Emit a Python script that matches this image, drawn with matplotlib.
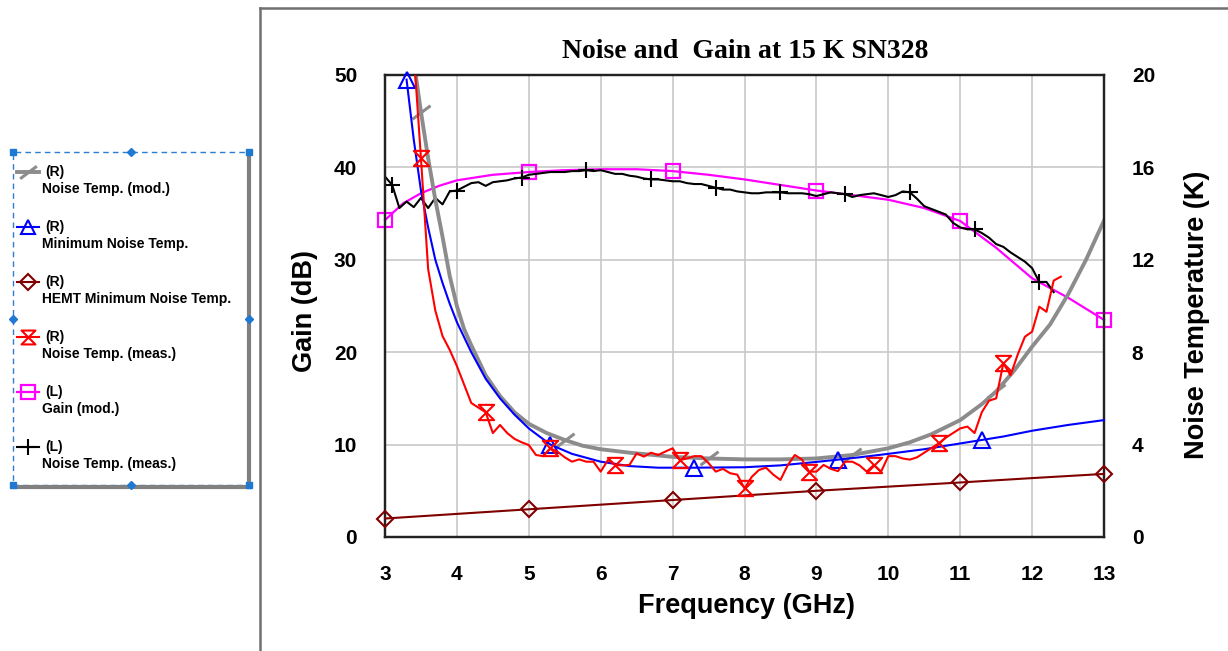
import numpy as np
import matplotlib
matplotlib.use("Agg")
import matplotlib.pyplot as plt
from matplotlib.lines import Line2D
from matplotlib.path import Path
from matplotlib.patches import Rectangle

plt.rcParams['font.family'] = ['Liberation Sans', 'DejaVu Sans']

# ---------------- data ----------------
# measured gain (L), 0.1 GHz steps from 3.0 GHz
gain_meas = [39.0, 38.1, 35.6, 36.3, 35.7, 36.7, 35.6, 36.7, 36.0, 37.4,
             37.5, 37.9, 38.3, 38.4, 38.0, 38.4, 38.5, 38.6, 38.8, 38.9,
             39.2, 39.3, 39.4, 39.5, 39.5, 39.5, 39.6, 39.6, 39.7, 39.6,
             39.7, 39.5, 39.3, 39.3, 39.1, 39.0, 38.8, 38.7, 38.7, 38.6,
             38.5, 38.5, 38.3, 38.2, 38.2, 38.0, 37.8, 37.6, 37.6, 37.4,
             37.3, 37.2, 37.2, 37.3, 37.3, 37.3, 37.2, 37.2, 37.2, 37.1,
             36.9, 37.1, 37.3, 37.2, 37.1, 36.8, 37.0, 37.1, 37.2, 37.0,
             36.8, 37.0, 37.4, 37.3, 36.6, 35.8, 35.5, 35.2, 34.9, 34.0,
             33.5, 33.3, 33.3, 32.9, 32.4, 31.7, 31.4, 30.8, 30.3, 29.8,
             29.1, 27.6, 27.6, 26.5]
freq_gain_meas = np.round(3.0 + 0.1 * np.arange(len(gain_meas)), 1)

# modelled gain (L)
freq_gain_mod = [3.0, 3.25, 3.5, 3.75, 4.0, 4.5, 5.0, 5.5, 6.0, 6.5, 7.0, 7.5,
                 8.0, 8.5, 9.0, 9.5, 10.0, 10.5, 11.0, 11.5, 12.0, 12.5, 13.0]
gain_mod = [34.3, 36.1, 37.2, 38.0, 38.6, 39.2, 39.5, 39.7, 39.8, 39.8, 39.6, 39.2,
            38.7, 38.1, 37.5, 37.0, 36.5, 35.6, 34.2, 31.3, 28.0, 25.9, 23.5]

# measured noise temperature (R), 0.1 GHz steps from 3.0 GHz
tn_meas = [40.0, 34.0, 29.0, 25.0, 21.0, 16.4, 11.6, 9.8, 8.7, 8.1,
           7.4, 6.6, 5.8, 5.6, 5.4, 4.5, 4.85, 4.5, 4.25, 4.1,
           3.98, 3.55, 3.5, 3.84, 3.69, 3.45, 3.26, 3.36, 3.26, 3.26,
           2.83, 3.33, 3.12, 3.1, 3.12, 3.62, 3.48, 3.65, 3.55, 3.7,
           3.84, 3.33, 3.4, 3.5, 3.5, 3.2, 2.83, 2.95, 2.76, 2.7,
           2.1, 2.6, 2.9, 3.0, 2.7, 2.47, 3.1, 3.55, 3.35, 2.83,
           2.83, 3.12, 2.95, 2.85, 3.26, 3.26, 3.1, 2.83, 3.12, 2.83,
           3.5, 3.5, 3.4, 3.35, 3.45, 3.65, 3.85, 4.05, 4.3, 4.5,
           4.7, 4.78, 4.5, 5.4, 5.9, 6.0, 7.52, 7.0, 7.9, 8.67,
           8.89, 9.97, 9.75, 11.1, 11.27]
freq_tn_meas = np.round(3.0 + 0.1 * np.arange(len(tn_meas)), 1)

# minimum noise temperature (R)
freq_tmin = [3.3, 3.4, 3.5, 3.6, 3.7, 3.8, 3.9, 4.0, 4.2, 4.4, 4.6, 4.8, 5.0, 5.3,
             5.6, 6.0, 6.4, 6.8, 7.3, 8.0, 8.5, 9.0, 9.3, 9.6, 10.0, 10.5, 11.0,
             11.3, 11.6, 12.0, 12.5, 13.0]
tmin = [19.8, 17.2, 15.0, 13.4, 12.0, 11.0, 10.1, 9.3, 8.0, 6.85, 6.0, 5.3, 4.7, 4.0,
        3.6, 3.26, 3.07, 3.0, 3.0, 3.02, 3.1, 3.25, 3.35, 3.45, 3.6, 3.8, 4.05,
        4.2, 4.35, 4.6, 4.85, 5.06]

# HEMT minimum noise temperature (R)
freq_hemt = [3, 4, 5, 6, 7, 8, 9, 10, 11, 12, 13]
t_hemt = [0.8, 1.0, 1.2, 1.4, 1.6, 1.8, 2.0, 2.18, 2.36, 2.55, 2.73]

# modelled noise temperature (R)
freq_tn_mod = [3.4, 3.5, 3.6, 3.7, 3.8, 3.9, 4.0, 4.1, 4.2, 4.4, 4.6, 4.8, 5.0,
               5.25, 5.5, 5.75, 6.0, 6.4, 7.0, 7.5, 8.0, 8.5, 9.0, 9.5, 10.0,
               10.3, 10.6, 11.0, 11.3, 11.5, 11.75, 12.0, 12.25, 12.5, 12.75, 13.0]
tn_mod = [20.6, 18.4, 16.4, 14.6, 13.0, 11.3, 10.0, 9.0, 8.3, 7.0, 6.1, 5.4, 4.9,
          4.5, 4.2, 3.95, 3.8, 3.65, 3.47, 3.4, 3.36, 3.36, 3.4, 3.55, 3.84,
          4.1, 4.45, 5.06, 5.75, 6.3, 7.2, 8.24, 9.2, 10.5, 12.0, 13.7]

freq_ticks = [3, 4, 5, 6, 7, 8, 9, 10, 11, 12, 13]
gain_ticks = [0, 10, 20, 30, 40, 50]
temp_ticks = [0, 4, 8, 12, 16, 20]

title = "Noise and  Gain at 15 K SN328"
legend_entries = [
    ("(R)", "Noise Temp. (mod.)"),
    ("(R)", "Minimum Noise Temp."),
    ("(R)", "HEMT Minimum Noise Temp."),
    ("(R)", "Noise Temp. (meas.)"),
    ("(L)", "Gain (mod.)"),
    ("(L)", "Noise Temp. (meas.)"),
]

# ---------------- styles ----------------
C_GRAY = "#8c8c8c"
C_BLUE = "#0000ff"
C_DRED = "#800000"
C_RED = "#ff0000"
C_MAG = "#ff00ff"
C_BLK = "#000000"

slash = Path([(-1.0, -0.75), (1.0, 0.75)], [Path.MOVETO, Path.LINETO])
hourglass = Path([(-1, 1), (1, 1), (-1, -1), (1, -1), (-1, 1)],
                 [Path.MOVETO, Path.LINETO, Path.LINETO, Path.LINETO, Path.CLOSEPOLY])


def idx_of(freqs, wanted):
    out = []
    for w in wanted:
        for i, f in enumerate(freqs):
            if abs(f - w) < 1e-6:
                out.append(i)
    return out


W, H = 1228, 651
fig = plt.figure(figsize=(W / 100, H / 100), dpi=100)
fig.patch.set_facecolor("white")

ax = fig.add_axes([385 / W, 114 / H, 719 / W, 462 / H])
ax2 = ax.twinx()

# left axis: gain
ax.plot(freq_gain_mod, gain_mod, color=C_MAG, lw=1.6, marker="s", ms=10,
        mfc="none", mec=C_MAG, mew=1.6,
        markevery=idx_of(freq_gain_mod, [3, 5, 7, 9, 11, 13]), clip_on=False, zorder=3)
ax.plot(freq_gain_meas, gain_meas, color=C_BLK, lw=1.5, marker="+", ms=12,
        mew=1.5, markevery=slice(1, None, 9), zorder=4)

# right axis: noise temperatures
ax2.plot(freq_tn_mod, tn_mod, color=C_GRAY, lw=2.8, marker=slash, ms=13, mew=2.2,
         mec=C_GRAY, markevery=idx_of(freq_tn_mod, [3.5, 5.5, 7.5, 9.5, 11.5]), zorder=2)
ax2.plot(freq_tmin, tmin, color=C_BLUE, lw=1.5, marker="^", ms=12, mfc="none",
         mec=C_BLUE, mew=1.5, markevery=idx_of(freq_tmin, [3.3, 5.3, 7.3, 9.3, 11.3]),
         clip_on=False, zorder=3)
ax2.plot(freq_hemt, t_hemt, color=C_DRED, lw=1.5, marker="D", ms=8, mfc="none",
         mec=C_DRED, mew=1.5, markevery=idx_of(freq_hemt, [3, 5, 7, 9, 11, 13]),
         clip_on=False, zorder=3)
ax2.plot(freq_tn_meas, tn_meas, color=C_RED, lw=1.5, marker=hourglass, ms=11,
         mfc="none", mec=C_RED, mew=1.5, markevery=slice(5, None, 9), zorder=4)

ax.set_xlim(3, 13)
ax.set_ylim(0, 50)
ax2.set_ylim(0, 20)
ax.set_xticks(freq_ticks)
ax.set_yticks(gain_ticks)
ax2.set_yticks(temp_ticks)
ax.grid(True, color="#c8c8c8", lw=1.2)
ax.set_axisbelow(True)

tick_font = dict(fontsize=15, fontweight="bold")
ax.set_xticklabels([str(t) for t in freq_ticks], **tick_font)
ax.set_yticklabels([str(t) for t in gain_ticks], **tick_font)
ax2.set_yticklabels([str(t) for t in temp_ticks], **tick_font)
ax.tick_params(axis="x", length=0, pad=20)
ax.tick_params(axis="y", length=0, pad=20)
ax2.tick_params(axis="y", length=0, pad=20)

for a in (ax, ax2):
    for s in a.spines.values():
        s.set_color("#222222")
        s.set_linewidth(1.6)

lab_font = dict(fontsize=19.5, fontweight="bold")
fig.text(746 / W, 1 - 606 / H, "Frequency (GHz)", ha="center", va="center", **lab_font)
fig.text(305 / W, 1 - 311 / H, "Gain (dB)", ha="center", va="center", rotation=90, **lab_font)
fig.text(1197 / W, 1 - 315 / H, "Noise Temperature (K)", ha="center", va="center",
         rotation=90, **lab_font)
fig.text(745 / W, 1 - 52 / H, title, ha="center", va="center", fontsize=20,
         fontweight="bold", family=["Liberation Serif", "DejaVu Serif"])

# outer chart-area frame (partially visible)
fig.add_artist(Line2D([260 / W, 260 / W], [0, 1 - 8 / H], transform=fig.transFigure,
                      color="#707070", lw=1.8))
fig.add_artist(Line2D([260 / W, 1.0], [1 - 8 / H, 1 - 8 / H], transform=fig.transFigure,
                      color="#707070", lw=1.8))

# ---------------- legend (drawn at its place outside the plot) ----------------
def fx(x):
    return x / W


def fy(y):
    return 1 - y / H


# shadow
fig.add_artist(Line2D([fx(249), fx(249)], [fy(156), fy(487)], transform=fig.transFigure,
                      color="#808080", lw=3.0))
fig.add_artist(Line2D([fx(15), fx(249)], [fy(487), fy(487)], transform=fig.transFigure,
                      color="#808080", lw=3.0))
fig.add_artist(Rectangle((fx(13), fy(485)), fx(236), 333 / H, transform=fig.transFigure,
                         fill=True, facecolor="white", edgecolor="#2a7fd4", lw=1.0,
                         ls=(0, (4, 3))))
hc = "#1f78d1"
for (hx, hy) in [(13, 152), (249, 152), (13, 485), (249, 485)]:
    fig.add_artist(Line2D([fx(hx)], [fy(hy)], transform=fig.transFigure, marker="s",
                          ms=5, color=hc, mec=hc))
for (hx, hy) in [(131, 152), (13, 319), (249, 319), (131, 485)]:
    fig.add_artist(Line2D([fx(hx)], [fy(hy)], transform=fig.transFigure, marker="D",
                          ms=4.5, color=hc, mec=hc))

leg_styles = [
    dict(color=C_GRAY, lw=2.8, marker=slash, ms=12, mew=2.2, mec=C_GRAY),
    dict(color=C_BLUE, lw=1.5, marker="^", ms=10, mfc="none", mec=C_BLUE, mew=1.5),
    dict(color=C_DRED, lw=1.5, marker="D", ms=8, mfc="none", mec=C_DRED, mew=1.5),
    dict(color=C_RED, lw=1.5, marker=hourglass, ms=10, mfc="none", mec=C_RED, mew=1.5),
    dict(color=C_MAG, lw=1.6, marker="s", ms=10, mfc="none", mec=C_MAG, mew=1.6),
    dict(color=C_BLK, lw=1.5, marker="+", ms=12, mew=1.5),
]
y0 = 172
dy = 55
for i, ((tag, name), st) in enumerate(zip(legend_entries, leg_styles)):
    yy = y0 + i * dy
    fig.add_artist(Line2D([fx(17), fx(39)], [fy(yy), fy(yy)], transform=fig.transFigure,
                          markevery=[], **{k: v for k, v in st.items()}))
    fig.add_artist(Line2D([fx(28)], [fy(yy)], transform=fig.transFigure, ls="none",
                          **{k: v for k, v in st.items() if k != "lw"}))
    fig.text(fx(45), fy(yy), tag, ha="left", va="center", fontsize=10, fontweight="bold")
    fig.text(fx(41.5), fy(yy + 17), name, ha="left", va="center", fontsize=10,
             fontweight="bold")

fig.savefig("out.png", dpi=100, facecolor="white")
